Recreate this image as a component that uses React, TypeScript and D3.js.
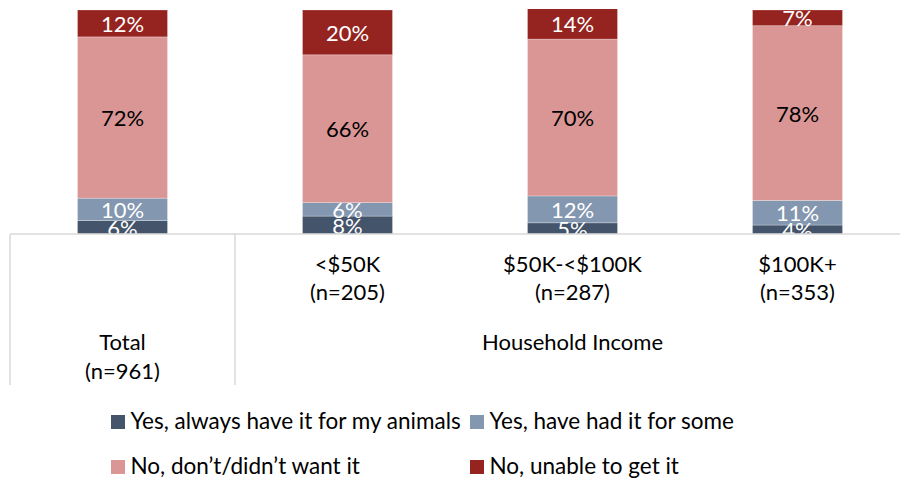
import React from "react";
import * as d3 from "d3";

const categories = ["Total", "<$50K", "$50K-<$100K", "$100K+"];
const sampleSizes = ["(n=961)", "(n=205)", "(n=287)", "(n=353)"];
const groupLabel = "Household Income";
const seriesNames = [
  "Yes, always have it for my animals",
  "Yes, have had it for some",
  "No, don’t/didn’t want it",
  "No, unable to get it",
];
const alwaysHave = [6, 8, 5, 4];
const hadForSome = [10, 6, 12, 11];
const dontWant = [72, 66, 70, 78];
const unableToGet = [12, 20, 14, 7];

const colors = ["#44546A", "#8497B0", "#DA9694", "#95231F"];
const labelColors = ["#ffffff", "#ffffff", "#000000", "#ffffff"];

const W = 900;
const H = 478;
const FONT = "Lato, 'Noto Sans', sans-serif";

export default function App() {
  const seriesValues = [alwaysHave, hadForSome, dontWant, unableToGet];
  const keys = ["s0", "s1", "s2", "s3"];
  const rows = categories.map((c, i) => {
    const r: any = { cat: c };
    keys.forEach((k, j) => (r[k] = seriesValues[j][i]));
    return r;
  });
  const stacked = d3.stack().keys(keys)(rows as any);

  const x = d3
    .scaleBand<string>()
    .domain(categories)
    .range([10, 910])
    .paddingInner(0.6)
    .paddingOuter(0.3);
  const y = d3.scaleLinear().domain([0, 100]).range([234, 10]);
  const axisY = y(0);
  const step = x.step();
  const x0 = x.range()[0];
  const groupCenter = (x0 + step + x.range()[1]) / 2;

  return (
    <svg
      width={W}
      height={H}
      style={{ position: "absolute", left: 0, top: 0, background: "#fff" }}
      fontFamily={FONT}
    >
      <defs>
        <clipPath id="plotClip">
          <rect x={0} y={9} width={W} height={axisY - 9} />
        </clipPath>
      </defs>
      <g clipPath="url(#plotClip)">
        {stacked.map((layer, si) =>
          layer.map((d, ci) => {
            const bx = x(categories[ci]) as number;
            const y1 = y(d[1]);
            const y0 = y(d[0]);
            return (
              <rect
                key={`r${si}-${ci}`}
                x={bx}
                y={y1}
                width={x.bandwidth()}
                height={y0 - y1}
                fill={colors[si]}
                stroke="#ffffff"
                strokeOpacity={0.35}
                strokeWidth={0.75}
              />
            );
          })
        )}
        {stacked.map((layer, si) =>
          layer.map((d, ci) => {
            const bx = x(categories[ci]) as number;
            const cy = (y(d[1]) + y(d[0])) / 2;
            return (
              <text
                key={`t${si}-${ci}`}
                x={bx + x.bandwidth() / 2}
                y={cy}
                textAnchor="middle"
                dominantBaseline="central"
                fontSize={22}
                fill={labelColors[si]}
              >
                {`${seriesValues[si][ci]}%`}
              </text>
            );
          })
        )}
      </g>

      {/* category axis */}
      <line x1={x0} x2={W} y1={axisY} y2={axisY} stroke="#d9d9d9" strokeWidth={1.5} />
      <line x1={x0} x2={x0} y1={axisY} y2={385} stroke="#d9d9d9" strokeWidth={1.5} />
      <line x1={x0 + step} x2={x0 + step} y1={axisY} y2={385} stroke="#d9d9d9" strokeWidth={1.5} />

      {categories.map((c, i) => {
        const cx = (x(c) as number) + x.bandwidth() / 2;
        const base = i === 0 ? 350 : 271.5;
        return (
          <text key={`c${i}`} x={cx} y={base} textAnchor="middle" fontSize={22} fill="#000">
            <tspan x={cx}>{c}</tspan>
            <tspan x={cx} dy={28.5}>
              {sampleSizes[i]}
            </tspan>
          </text>
        );
      })}
      <text x={groupCenter} y={350} textAnchor="middle" fontSize={22} fill="#000">
        {groupLabel}
      </text>

      {/* legend */}
      {seriesNames.map((name, i) => {
        const col = i % 2;
        const row = Math.floor(i / 2);
        const lx = col === 0 ? 111 : 470;
        const ly = row === 0 ? 415 : 460;
        return (
          <g key={`l${i}`}>
            <rect x={lx} y={ly} width={14} height={14} fill={colors[i]} />
            <text x={lx + 19.5} y={ly + 14} fontSize={22.5} fill="#000">
              {name}
            </text>
          </g>
        );
      })}
    </svg>
  );
}
